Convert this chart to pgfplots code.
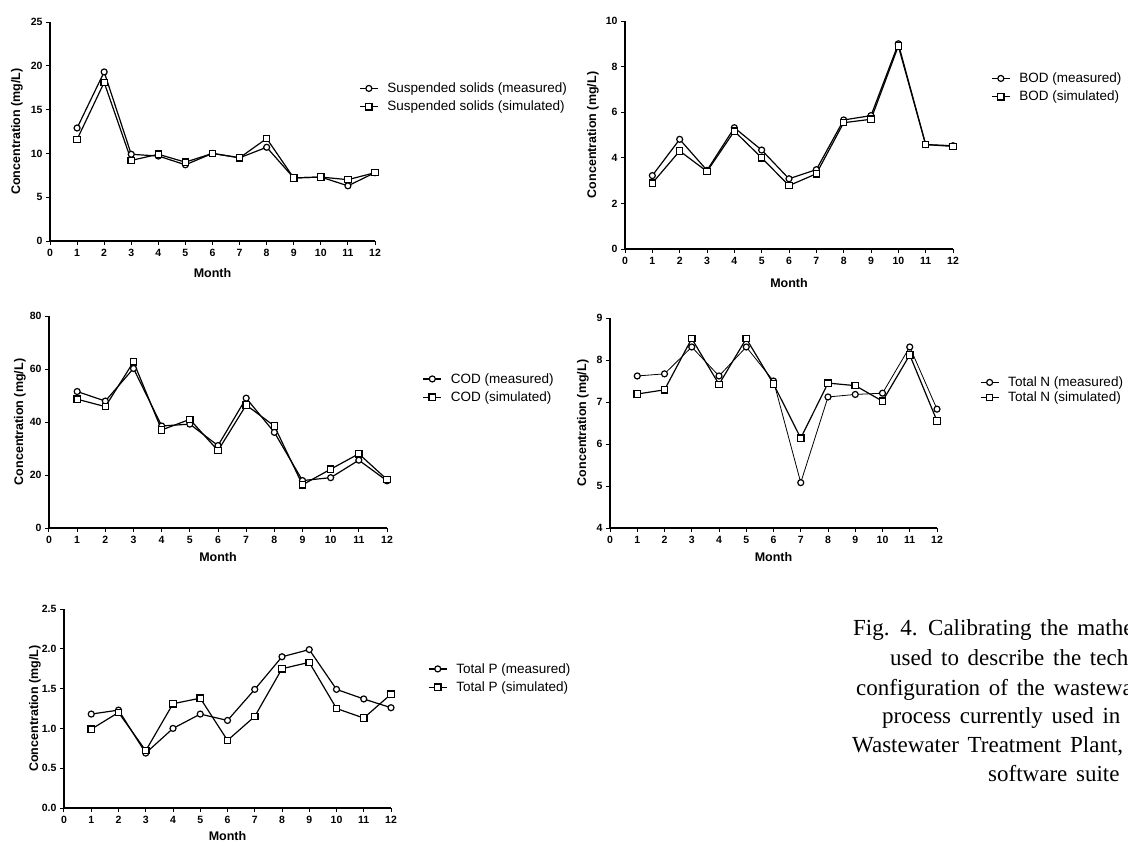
\documentclass[border=0pt]{standalone}
\usepackage{fontspec}
\setmainfont{Liberation Sans}
\newfontfamily\capfont{Liberation Serif}
\newcommand\capline[1]{{\capfont\fontsize{23}{26}\selectfont\spaceskip=0.38em\relax #1}}
\usepackage{pgfplots}
\pgfplotsset{compat=1.18}
\pgfplotsset{
 panel/.style={
  scale only axis,
  axis x line*=bottom, axis y line*=left,
  axis line style={-, line width=1.1pt},
  xmin=0, xmax=12, xtick={0,...,12},
  tick align=outside, major tick length=4pt,
  every tick/.style={black, line width=1pt},
  tick label style={font=\bfseries\fontsize{10.5}{12}\selectfont},
  xticklabel style={text height=7.5pt, text depth=0pt},
  /pgf/number format/assume math mode=true,
  label style={font=\bfseries\fontsize{12.5}{14}\selectfont},
  xlabel={Month}, ylabel={Concentration (mg/L)},
  legend style={draw=none, fill=none, font=\fontsize{13.5}{15}\selectfont, anchor=west, row sep=3pt, column sep=7pt, inner sep=0pt},
  legend cell align=left,
  legend image code/.code={\draw[mark repeat=2,mark phase=2,##1] plot coordinates {(0pt,0pt) (9pt,0pt) (18pt,0pt)};},
  clip=false,
 },
 meas/.style={black, line width=1.2pt, mark=*, mark size=3pt, mark options={solid, fill=white, line width=1.2pt}},
 sim/.style={black, line width=1.2pt, mark=square*, mark size=3.2pt, mark options={solid, fill=white, line width=1.2pt}},
}
\begin{document}
\begin{tikzpicture}
\useasboundingbox (0pt,0pt) rectangle (1128pt,-841pt);
\clip (0pt,0pt) rectangle (1128pt,-841pt);

% Panel 1: Suspended solids
\begin{axis}[panel, at={(50pt,-241pt)}, anchor=south west, width=325pt, height=219pt,
  ymin=0, ymax=25, ytick={0,5,...,25},
  xlabel style={at={(axis description cs:0.5,0)}, anchor=center, yshift=-32pt},
  ylabel style={at={(axis description cs:-0.1015,0.5)}, anchor=center},
  legend style={at={(axis description cs:0.951,0.655)}}]
\addplot[meas] coordinates {(1,12.9) (2,19.3) (3,9.9) (4,9.7) (5,8.7) (6,10.0) (7,9.5) (8,10.7) (9,7.2) (10,7.3) (11,6.3) (12,7.8)};
\addlegendentry{Suspended solids (measured)}
\addplot[sim] coordinates {(1,11.6) (2,18.1) (3,9.2) (4,9.9) (5,9.0) (6,10.0) (7,9.5) (8,11.7) (9,7.2) (10,7.3) (11,7.0) (12,7.8)};
\addlegendentry{Suspended solids (simulated)}
\end{axis}

% Panel 2: BOD
\begin{axis}[panel, at={(625pt,-249pt)}, anchor=south west, width=328pt, height=228pt,
  ymin=0, ymax=10, ytick={0,2,...,10},
  xlabel style={at={(axis description cs:0.5,0)}, anchor=center, yshift=-34pt},
  ylabel style={at={(axis description cs:-0.0976,0.5)}, anchor=center},
  legend style={at={(axis description cs:1.116,0.708)}}]
\addplot[meas] coordinates {(1,3.22) (2,4.81) (3,3.45) (4,5.32) (5,4.34) (6,3.08) (7,3.48) (8,5.66) (9,5.85) (10,9.0) (11,4.58) (12,4.53)};
\addlegendentry{BOD (measured)}
\addplot[sim] coordinates {(1,2.89) (2,4.30) (3,3.40) (4,5.17) (5,4.00) (6,2.78) (7,3.30) (8,5.54) (9,5.69) (10,8.9) (11,4.58) (12,4.50)};
\addlegendentry{BOD (simulated)}
\end{axis}

% Panel 3: COD
\begin{axis}[panel, at={(49pt,-528pt)}, anchor=south west, width=338pt, height=212pt,
  ymin=0, ymax=80, ytick={0,20,...,80},
  xlabel style={at={(axis description cs:0.5,0)}, anchor=center, yshift=-29pt},
  ylabel style={at={(axis description cs:-0.0858,0.5)}, anchor=center},
  legend style={at={(axis description cs:1.105,0.660)}}]
\addplot[meas] coordinates {(1,51.5) (2,47.9) (3,60.2) (4,38.5) (5,39.2) (6,31.1) (7,49.0) (8,36.1) (9,17.9) (10,19.0) (11,25.6) (12,17.8)};
\addlegendentry{COD (measured)}
\addplot[sim] coordinates {(1,48.6) (2,45.8) (3,62.7) (4,37.0) (5,41.0) (6,29.2) (7,46.4) (8,38.5) (9,16.3) (10,22.2) (11,28.0) (12,18.3)};
\addlegendentry{COD (simulated)}
\end{axis}

% Panel 4: Total N
\begin{axis}[panel, at={(610pt,-528pt)}, anchor=south west, width=327pt, height=210pt,
  ymin=4, ymax=9, ytick={4,...,9},
  xlabel style={at={(axis description cs:0.5,0)}, anchor=center, yshift=-29pt},
  ylabel style={at={(axis description cs:-0.083,0.5)}, anchor=center},
  legend style={at={(axis description cs:1.131,0.657)}, row sep=0pt}]
\addplot[meas, line width=0.8pt] coordinates {(1,7.62) (2,7.67) (3,8.31) (4,7.62) (5,8.31) (6,7.50) (7,5.08) (8,7.12) (9,7.18) (10,7.21) (11,8.31) (12,6.83)};
\addlegendentry{Total N (measured)}
\addplot[sim] coordinates {(1,7.19) (2,7.29) (3,8.51) (4,7.42) (5,8.51) (6,7.43) (7,6.14) (8,7.45) (9,7.39) (10,7.02) (11,8.12) (12,6.55)};
\addlegendentry{Total N (simulated)}
\end{axis}

% Panel 5: Total P
\begin{axis}[panel, at={(64pt,-808pt)}, anchor=south west, width=327pt, height=199pt,
  ymin=0, ymax=2.5, ytick={0,0.5,...,2.5},
  yticklabel style={/pgf/number format/.cd, fixed, fixed zerofill, precision=1},
  xlabel style={at={(axis description cs:0.5,0)}, anchor=center, yshift=-28pt},
  ylabel style={at={(axis description cs:-0.0887,0.5)}, anchor=center},
  legend style={at={(axis description cs:1.113,0.653)}}]
\addplot[meas] coordinates {(1,1.18) (2,1.23) (3,0.69) (4,1.00) (5,1.18) (6,1.10) (7,1.49) (8,1.90) (9,1.99) (10,1.49) (11,1.37) (12,1.26)};
\addlegendentry{Total P (measured)}
\addplot[sim] coordinates {(1,0.99) (2,1.20) (3,0.72) (4,1.31) (5,1.38) (6,0.85) (7,1.15) (8,1.75) (9,1.83) (10,1.25) (11,1.13) (12,1.43)};
\addlegendentry{Total P (simulated)}
\end{axis}

% Caption (cut at the right edge)
\begin{scope}[every node/.style={anchor=base west, inner sep=0pt}]
\node at (853pt,-635pt) {\capline{Fig. 4. Calibrating the mathem}};
\node at (890pt,-665pt) {\capline{used to describe the tech}};
\node at (856pt,-695pt) {\capline{configuration of the wastewa}};
\node at (882pt,-723pt) {\capline{process currently used in}};
\node at (852pt,-752pt) {\capline{Wastewater Treatment Plant,}};
\node at (988pt,-781pt) {\capline{software suite}};
\end{scope}
\end{tikzpicture}
\end{document}
